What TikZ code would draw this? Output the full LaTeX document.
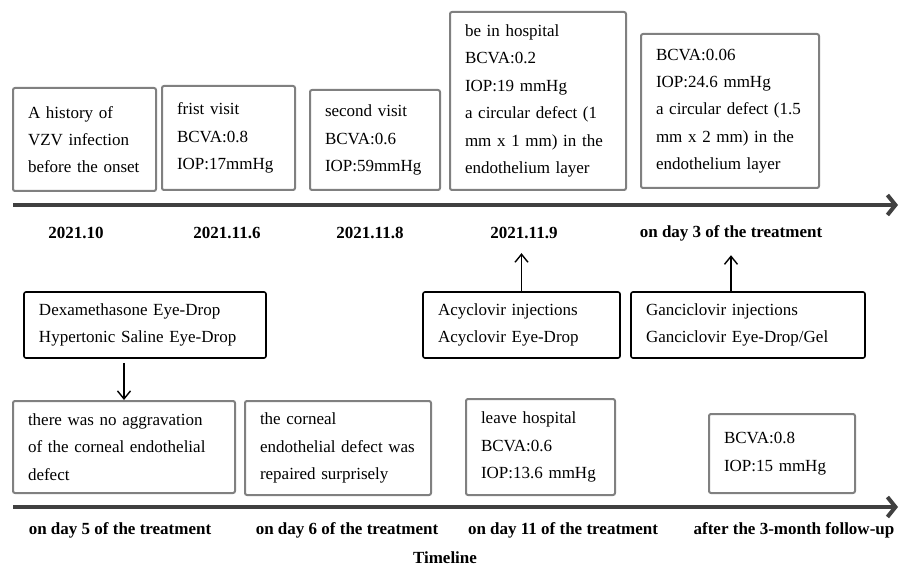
\documentclass[tikz,border=0pt]{standalone}
\usepackage{fontspec}
\setmainfont{Liberation Serif}
\usetikzlibrary{arrows.meta}

\definecolor{boxgray}{RGB}{128,128,128}
\definecolor{axisgray}{RGB}{64,64,64}

\tikzset{
  evbox/.style={draw=boxgray, line width=1pt, rounded corners=1pt, inner xsep=7.5pt,
    inner ysep=0pt, align=left, font=\fontsize{8.5}{13.7}\selectfont},
  drugbox/.style={evbox, draw=black, line width=0.8pt},
  bw/.style 2 args={minimum width=#1*0.5pt, text width=(#1-30)*0.5pt, minimum height=#2*0.5pt},
  datelbl/.style={font=\bfseries\fontsize{8.5}{10}\selectfont, inner sep=2pt},
  tlaxis/.style={draw=axisgray, line width=2pt, -{Straight Barb[length=4pt,width=10pt]}},
  tlarrow/.style={line width=0.7pt, -{Straight Barb[length=4pt,width=6.5pt]}}
}

\begin{document}
\begin{tikzpicture}[x=0.5pt,y=-0.5pt]
  \useasboundingbox (0,0) rectangle (900,567);

  %% Timeline axes
  \coordinate (TA0) at (13,205);
  \coordinate (TA1) at (898,205);
  \coordinate (BA0) at (13,507);
  \coordinate (BA1) at (898,507);
  \draw[tlaxis] (TA0) -- (TA1);
  \draw[tlaxis] (BA0) -- (BA1);

  %% Events above the first axis
  \node[evbox, bw={143}{103}] (B1) at (84.5,139.5)
    {A history of\\VZV infection\\before the onset};
  \node[evbox, bw={133}{104}] (B2) at (228.5,138)
    {frist visit\\BCVA:0.8\\IOP:17mmHg};
  \node[evbox, bw={130}{100}] (B3) at (375,140)
    {second visit\\BCVA:0.6\\IOP:59mmHg};
  \node[evbox, bw={176}{178}] (B4) at (538,101)
    {be in hospital\\BCVA:0.2\\IOP:19 mmHg\\
     \makebox[\linewidth][s]{a circular defect (1}\\
     \makebox[\linewidth][s]{mm x 1 mm) in the}\\
     endothelium layer};
  \node[evbox, bw={178}{154}] (B5) at (730,111)
    {BCVA:0.06\\IOP:24.6 mmHg\\
     \makebox[\linewidth][s]{a circular defect (1.5}\\
     \makebox[\linewidth][s]{mm x 2 mm) in the}\\
     endothelium layer};

  %% Dates
  \foreach \n/\x/\t in {D1/76/2021.10, D2/227/2021.11.6, D3/370/2021.11.8,
                        D4/524/2021.11.9, D5/731/on day 3 of the treatment}
  {
    \node[datelbl] (\n) at (\x,233) {\t};
  }

  %% Treatments
  \node[drugbox, bw={242}{66}] (M1) at (145,325)
    {Dexamethasone Eye-Drop\\Hypertonic Saline Eye-Drop};
  \node[drugbox, bw={197}{66}] (M2) at (521.5,325)
    {Acyclovir injections\\Acyclovir Eye-Drop};
  \node[drugbox, bw={234}{66}] (M3) at (748,325)
    {Ganciclovir injections\\Ganciclovir Eye-Drop/Gel};

  \draw[tlarrow, shorten >=5pt] (M2.north) -- (M2.north |- D4.south);
  \draw[tlarrow, shorten >=5pt] (D5.south |- M3.north) -- (D5.south);

  %% Events above the second axis
  \node[evbox, bw={222}{92}] (L1) at (124,447)
    {there was no aggravation\\of the corneal endothelial\\defect};
  \node[evbox, bw={186}{94}] (L2) at (338,448)
    {the corneal\\endothelial defect was\\repaired surprisely};
  \node[evbox, bw={149}{96}] (L3) at (540.5,447)
    {leave hospital\\BCVA:0.6\\IOP:13.6 mmHg};
  \node[evbox, bw={146}{79}] (L4) at (782,453.5)
    {BCVA:0.8\\IOP:15 mmHg};

  \draw[tlarrow, shorten <=2pt] (L1.north |- M1.south) -- (L1.north);

  \foreach \n/\x/\t in {E1/120/on day 5 of the treatment, E2/347/on day 6 of the treatment,
                        E3/563/on day 11 of the treatment, E4/794/after the 3-month follow-up}
  {
    \node[datelbl] (\n) at (\x,530) {\t};
  }

  \node[datelbl] (TL) at (445,558) {Timeline};
\end{tikzpicture}
\end{document}
